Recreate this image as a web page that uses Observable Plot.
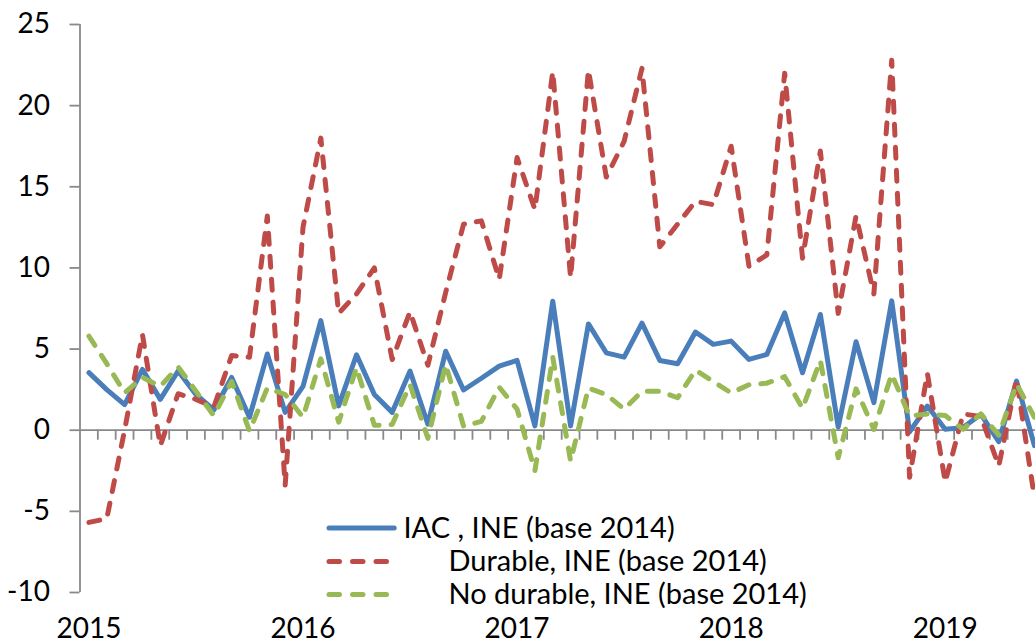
<!DOCTYPE html>
<html>
<head>
<meta charset="utf-8">
<script src="https://cdn.jsdelivr.net/npm/d3@7"></script>
<script src="https://cdn.jsdelivr.net/npm/@observablehq/plot@0.6"></script>
<style>
  html, body { margin: 0; padding: 0; background: #fff; overflow: hidden; }
  #wrap { position: relative; width: 1035px; height: 644px; }
  #wrap svg { position: absolute; left: 0; top: 0; }
</style>
</head>
<body>
<div id="wrap"></div>
<script>
// ---- data ----
const months = [
  "2015-01","2015-02","2015-03","2015-04","2015-05","2015-06","2015-07","2015-08","2015-09","2015-10","2015-11","2015-12",
  "2016-01","2016-02","2016-03","2016-04","2016-05","2016-06","2016-07","2016-08","2016-09","2016-10","2016-11","2016-12",
  "2017-01","2017-02","2017-03","2017-04","2017-05","2017-06","2017-07","2017-08","2017-09","2017-10","2017-11","2017-12",
  "2018-01","2018-02","2018-03","2018-04","2018-05","2018-06","2018-07","2018-08","2018-09","2018-10","2018-11","2018-12",
  "2019-01","2019-02","2019-03","2019-04","2019-05","2019-06"
];
const iac = [
  3.55, 2.5, 1.58, 3.75, 1.9, 3.65, 2.2, 1.25, 3.25, 0.8, 4.7, 1.1,
  2.7, 6.75, 1.5, 4.65, 2.2, 1.1, 3.65, 0.37, 4.87, 2.48, 3.2, 3.95,
  4.3, 0.27, 7.95, 0.27, 6.55, 4.77, 4.5, 6.6, 4.3, 4.1, 6.05, 5.29,
  5.49, 4.36, 4.67, 7.23, 3.54, 7.13, 0.2, 5.45, 1.7, 7.97, -0.1, 1.49,
  0.06, 0.16, 0.98, -0.7, 3.03, -0.95
];
const durable = [
  -5.68, -5.45, 0.0, 5.9, -0.96, 2.25, 1.9, 1.42, 4.6, 4.5, 13.2, -3.4,
  12.5, 18.0, 7.2, 8.4, 10.0, 4.35, 7.3, 4.0, 8.5, 12.7, 12.9, 9.3,
  16.8, 13.6, 22.1, 9.4, 22.2, 15.6, 17.8, 22.3, 11.3, 12.7, 14.1, 13.9,
  17.5, 10.1, 10.8, 22.0, 10.6, 17.2, 7.2, 13.2, 8.4, 22.8, -2.9, 3.5,
  -3.2, 1.0, 0.85, -2.2, 3.15, -4.15
];
const noDurable = [
  5.8, 4.1, 2.3, 3.25, 2.7, 3.9, 2.4, 0.9, 3.0, -0.05, 2.6, 2.2,
  0.8, 4.4, 0.5, 3.85, 0.3, 0.35, 2.8, -0.5, 4.05, 0.25, 0.55, 2.65,
  1.3, -2.5, 4.5, -1.9, 2.6, 2.2, 1.3, 2.4, 2.4, 2.0, 3.7, 3.0,
  2.3, 2.8, 2.9, 3.3, 1.35, 4.3, -1.7, 2.55, 0.05, 3.45, 0.88, 1.0,
  0.9, 0.06, 1.0, -0.3, 2.85, 0.8
];
const yTicks = [-10, -5, 0, 5, 10, 15, 20, 25];
const seriesNames = ["IAC , INE (base 2014)", "Durable, INE (base 2014)", "No durable, INE (base 2014)"];
const seriesColors = ["#4A7EBB", "#BE4B48", "#98B954"];
const seriesDash = [null, "11,12", "11,12"];

// ---- derived tables ----
const rows = months.map((m, i) => ({i, month: m, iac: iac[i], durable: durable[i], noDurable: noDurable[i]}));
const yearIdx = months.map((m, i) => m.endsWith("-01") ? i : null).filter(d => d !== null);
const boundaries = months.slice(1).map((m, i) => i + 0.5);
const axisGray = "#898989";
const font = "Lato, 'Open Sans', sans-serif";

const lineOpts = (key, k) => ({
  x: "i", y: key, stroke: seriesColors[k], strokeWidth: 5,
  strokeLinejoin: "round", strokeLinecap: "round",
  ...(seriesDash[k] ? {strokeDasharray: seriesDash[k]} : {})
});

const chart = Plot.plot({
  width: 1035, height: 644,
  marginLeft: 79.5, marginRight: 0, marginTop: 24, marginBottom: 52,
  x: {type: "linear", domain: [-0.5, 53.06]},
  y: {domain: [-10, 25]},
  style: {fontFamily: font, fontSize: "28px", background: "white", color: "black"},
  marks: [
    Plot.ruleY([0], {stroke: axisGray, strokeWidth: 1.8}),
    Plot.ruleX(boundaries, {x: d => d, y1: 0, y2: 0, insetTop: 10, stroke: axisGray, strokeWidth: 1.8}),
    Plot.ruleX([-0.5], {x: d => d, y1: -10, y2: 25, stroke: axisGray, strokeWidth: 1.8}),
    Plot.axisY({ticks: yTicks, tickSize: 10, tickPadding: 20, tickFormat: d => String(d),
      label: null, stroke: axisGray, strokeWidth: 1.8, fill: "black", fontSize: 28}),
    Plot.axisX({ticks: yearIdx, tickFormat: i => months[i].slice(0, 4), tickSize: 0,
      tickPadding: 26, label: null, fill: "black", fontSize: 28}),
    Plot.line(rows, lineOpts("iac", 0)),
    Plot.line(rows, lineOpts("durable", 1)),
    Plot.line(rows, lineOpts("noDurable", 2))
  ]
});
document.getElementById("wrap").appendChild(chart);

// ---- legend overlay (inside plot area, like the reference) ----
const legendRows = [
  {name: seriesNames[0], color: seriesColors[0], dash: seriesDash[0], base: 537.5, x2: 396.7, tx: 403.5},
  {name: seriesNames[1], color: seriesColors[1], dash: seriesDash[1], base: 571, x2: 390, tx: 448.5},
  {name: seriesNames[2], color: seriesColors[2], dash: seriesDash[2], base: 604, x2: 390, tx: 448.5}
];
const leg = d3.create("svg").attr("width", 1035).attr("height", 644)
  .style("pointer-events", "none").style("font-family", font).style("font-size", "29px");
const g = leg.selectAll("g").data(legendRows).join("g");
g.append("line")
  .attr("x1", 329).attr("x2", d => d.x2 - 2.5)
  .attr("y1", d => d.base - 9.5).attr("y2", d => d.base - 9.5)
  .attr("stroke", d => d.color).attr("stroke-width", 5).attr("stroke-linecap", "round")
  .attr("stroke-dasharray", d => d.dash ? "10.5,13" : null);
g.append("text")
  .attr("x", d => d.tx).attr("y", d => d.base)
  .attr("fill", "black").text(d => d.name);
document.getElementById("wrap").appendChild(leg.node());
</script>
</body>
</html>
